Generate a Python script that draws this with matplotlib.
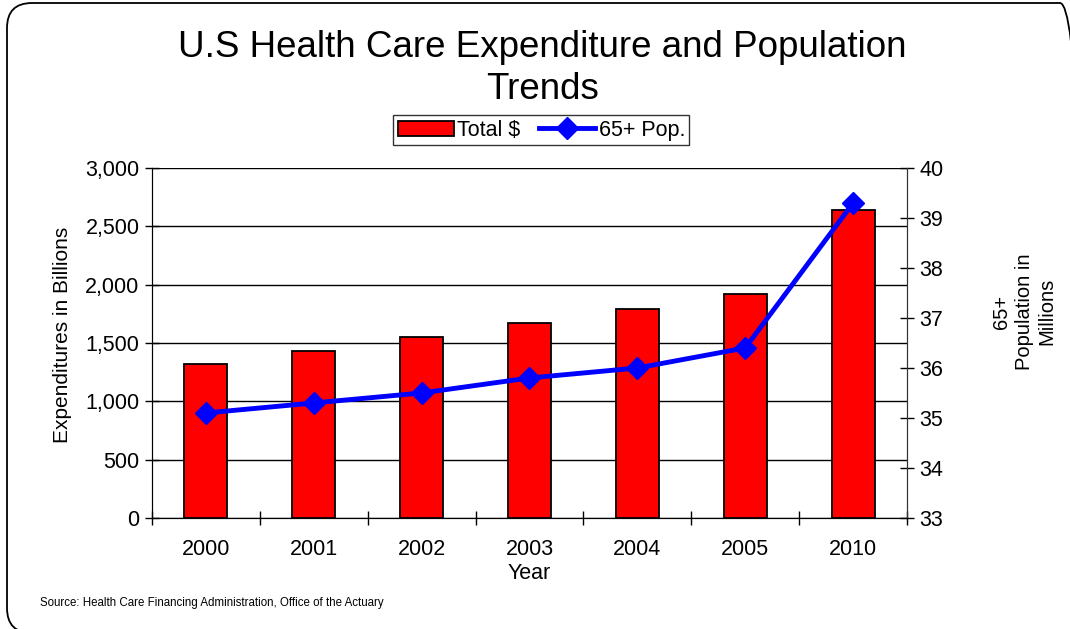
import matplotlib
matplotlib.use("Agg")
import matplotlib.pyplot as plt
import matplotlib.patches as mpatches
import matplotlib.transforms as mtransforms
from matplotlib.ticker import FuncFormatter, MultipleLocator, FixedLocator, NullFormatter

plt.rcParams['font.family'] = ['Liberation Sans', 'DejaVu Sans']

years = ['2000', '2001', '2002', '2003', '2004', '2005', '2010']
total_spend = [1320, 1430, 1553, 1674, 1794, 1922, 2640]   # billions $
pop_65 = [35.1, 35.3, 35.5, 35.8, 36.0, 36.4, 39.3]         # millions

fig = plt.figure(figsize=(10.7, 6.29), dpi=100)

# rounded slide border (pixel coords, runs off the right/bottom edges)
border = mpatches.FancyBboxPatch((32, 21), 1028, 580,
                                 boxstyle="round,pad=25,rounding_size=25",
                                 transform=mtransforms.IdentityTransform(),
                                 facecolor='none', edgecolor='black', linewidth=1.3)
fig.patches.append(border)

ax = fig.add_axes([0.142, 0.1765, 0.7057, 0.5565])
x = list(range(len(years)))

ax.bar(x, total_spend, width=0.4, color='#FF0000', edgecolor='black',
       linewidth=1.3, zorder=2, label='Total $')
ax.set_xlim(-0.5, len(years) - 0.5)
ax.set_ylim(0, 3000)
ax.yaxis.set_major_locator(MultipleLocator(500))
ax.yaxis.set_major_formatter(FuncFormatter(lambda v, p: f"{int(v):,}"))
ax.grid(axis='y', color='black', linewidth=1.0, zorder=0)
ax.set_axisbelow(True)

# category ticks between groups, labels at centers
ax.xaxis.set_major_locator(FixedLocator([i - 0.5 for i in range(len(years) + 1)]))
ax.xaxis.set_major_formatter(NullFormatter())
ax.xaxis.set_minor_locator(FixedLocator(x))
ax.set_xticklabels(years, minor=True)
ax.tick_params(axis='x', which='minor', length=0, labelsize=15.5, pad=15)
ax.tick_params(axis='x', which='major', direction='inout', length=10, width=1)
ax.tick_params(axis='y', direction='inout', length=10, width=1, labelsize=15.5, pad=4)

ax.spines['top'].set_visible(False)
for s in ['left', 'bottom', 'right']:
    ax.spines[s].set_color('#333333')

ax.text(-0.119, 0.523, 'Expenditures in Billions', transform=ax.transAxes,
        rotation=90, ha='center', va='center', fontsize=15)
ax.set_xlabel('Year', fontsize=15.5, labelpad=2)

ax2 = ax.twinx()
ax2.plot(x, pop_65, color='#0000FF', linewidth=3.5, marker='D', markersize=11,
         zorder=3, label='65+ Pop.')
ax2.set_ylim(33, 40)
ax2.yaxis.set_major_locator(MultipleLocator(1))
ax2.tick_params(axis='y', direction='inout', length=10, width=1, labelsize=15.5, pad=4)
ax2.spines['top'].set_visible(False)
ax2.spines['right'].set_color('#333333')
ax2.text(1.155, 0.589, '65+\nPopulation in\nMillions', transform=ax2.transAxes,
         rotation=90, ha='center', va='center', multialignment='center',
         fontsize=14.5, linespacing=1.25)

fig.text(0.507, 0.891, 'U.S Health Care Expenditure and Population\nTrends',
         ha='center', va='center', fontsize=26.5, linespacing=1.25)

h1, l1 = ax.get_legend_handles_labels()
h2, l2 = ax2.get_legend_handles_labels()
leg = fig.legend(h1 + h2, l1 + l2, loc='center', bbox_to_anchor=(0.506, 0.793),
                 ncol=2, fontsize=15.5, frameon=True, fancybox=False,
                 edgecolor='black', handlelength=2.6, handletextpad=0.15,
                 columnspacing=0.9, borderpad=0.2)
leg.get_frame().set_linewidth(1.0)

fig.text(0.037, 0.041, 'Source: Health Care Financing Administration, Office of the Actuary',
         fontsize=8.3, ha='left', va='center')

fig.savefig('out.png', dpi=100)
